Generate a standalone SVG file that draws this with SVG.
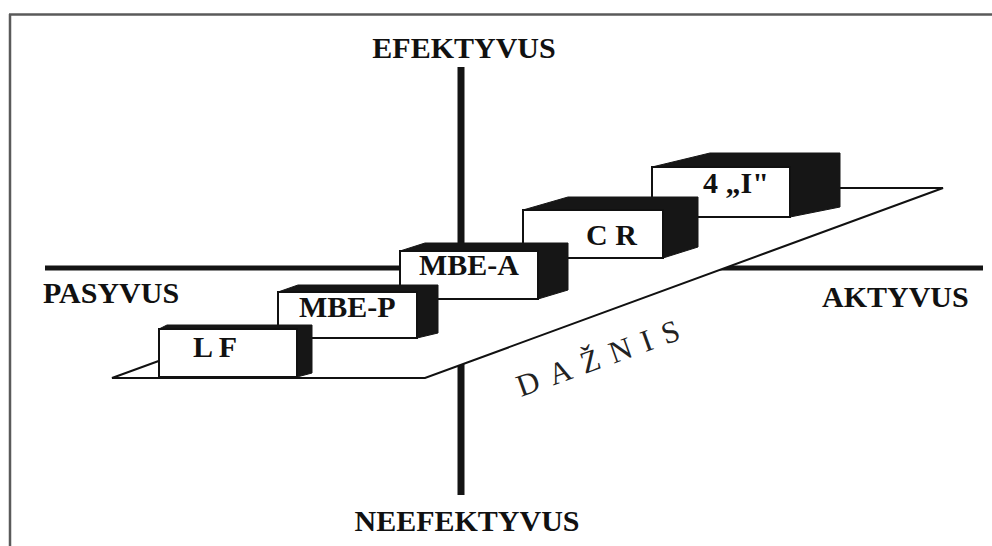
<svg xmlns="http://www.w3.org/2000/svg" width="992" height="546" viewBox="0 0 992 546">
<style>
.lbl{font-family:"Liberation Serif","Times New Roman",serif;font-weight:bold;font-size:30px;fill:#111}
.axis{stroke:#141414;fill:none}
.side{fill:#161616;stroke:#161616;stroke-width:1;stroke-linejoin:round}
.front{fill:#fff;stroke:#111;stroke-width:2}
.frame{stroke:#5a5a5a;stroke-width:2.5;fill:none}
</style>
<rect width="992" height="546" fill="#fff"/>
<g id="frame">
<line class="frame" x1="9" y1="14.5" x2="992" y2="14.5"/>
<line class="frame" x1="10" y1="14" x2="10" y2="546"/>
</g>
<g id="connectors">
<line class="axis" x1="461" y1="67" x2="461" y2="495" stroke-width="7"/>
<line class="axis" x1="45" y1="268" x2="983" y2="268" stroke-width="5"/>
</g>
<g id="plane">
<polygon points="112,378 425,378 943,188 660,188" fill="#fff" stroke="none"/>
<polyline points="160,360.5 112,378 425,378 943,188 830,188" fill="none" stroke="#111" stroke-width="2" stroke-linejoin="miter"/>
<text x="521" y="397" transform="rotate(-19.8 521 397)" font-family="Liberation Serif, Times New Roman, serif" font-size="31" letter-spacing="11.5" fill="#222">DAŽNIS</text>
</g>
<g id="node-4I">
<polygon class="side" points="652,167 710,153 840,153 840,207 790,217"/>
<rect class="front" x="652" y="167" width="138" height="50"/>
<text class="lbl" x="703" y="193">4 „I"</text>
</g>
<g id="node-CR">
<polygon class="side" points="523,210 568,197 698,197 698,247 663,258"/>
<rect class="front" x="523" y="210" width="140" height="48"/>
<text class="lbl" x="586" y="245">C R</text>
</g>
<g id="node-MBE-A">
<polygon class="side" points="400,251 425,243 568,243 568,290 538,299"/>
<rect class="front" x="400" y="251" width="138" height="48"/>
<text class="lbl" x="419" y="275">MBE-A</text>
</g>
<g id="node-MBE-P">
<polygon class="side" points="278,292 298,285 438,285 438,333 417,338"/>
<rect class="front" x="278" y="292" width="139" height="46"/>
<text class="lbl" x="299" y="317">MBE-P</text>
</g>
<g id="node-LF">
<polygon class="side" points="159,329 167,325 312,325 312,373 297,377"/>
<rect class="front" x="159" y="329" width="138" height="48"/>
<text class="lbl" x="193" y="357">L F</text>
</g>
<g id="axis-labels">
<text class="lbl" x="464" y="58" text-anchor="middle">EFEKTYVUS</text>
<text class="lbl" x="43" y="303">PASYVUS</text>
<text class="lbl" x="822" y="307">AKTYVUS</text>
<text class="lbl" x="467" y="531" text-anchor="middle" font-size="28">NEEFEKTYVUS</text>
</g>
</svg>
